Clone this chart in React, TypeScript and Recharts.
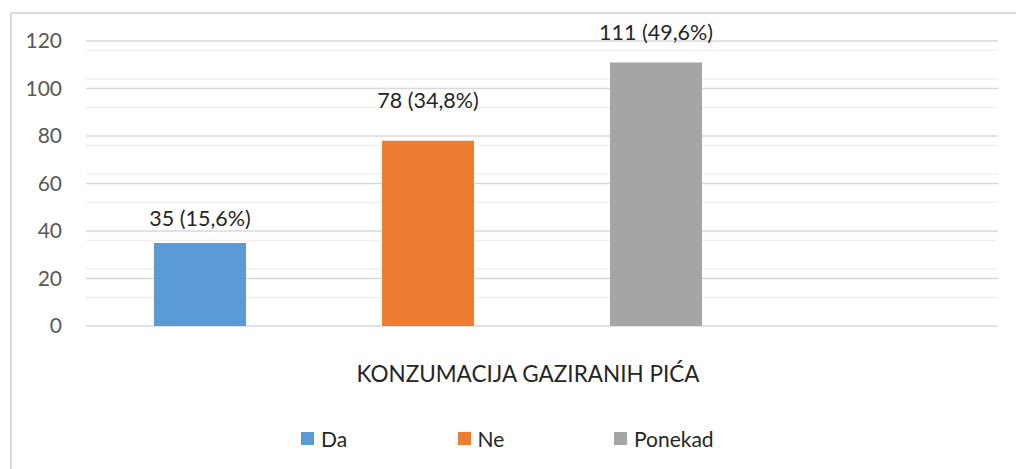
import React from 'react';
import { BarChart, Bar, XAxis, YAxis, CartesianGrid, LabelList } from 'recharts';

const category = 'KONZUMACIJA GAZIRANIH PIĆA';
const seriesNames = ['Da', 'Ne', 'Ponekad'];
const seriesValues = [35, 78, 111];
const seriesPercents = ['15,6%', '34,8%', '49,6%'];
const yTicks = [0, 20, 40, 60, 80, 100, 120];

const colors = ['#5B9BD5', '#ED7D31', '#A5A5A5'];
// labels sit at slightly different heights above each bar
const labelOffsets = [17, 33, 22];

const minorTicks = Array.from({ length: 31 }, (_, i) => i * 4).filter((v) => v % 20 !== 0);

const row: Record<string, string | number | null> = { category, empty: null };
seriesNames.forEach((name, i) => {
  row[name] = seriesValues[i];
});
const data = [row];

const FONT = 'Lato, "Open Sans", sans-serif';

function CategoryTick(props: any) {
  const { x, y, payload } = props;
  return (
    <text x={x - 14} y={y} dy={18} textAnchor="middle" fill="#262626" fontSize={22.5} fontFamily={FONT}>
      {payload.value}
    </text>
  );
}

function ChartLegend() {
  return (
    <div
      style={{
        position: 'absolute',
        left: 301,
        top: 426,
        display: 'flex',
        fontFamily: FONT,
        fontSize: 21,
        color: '#262626',
      }}
    >
      {seriesNames.map((name, i) => (
        <div key={name} style={{ display: 'flex', alignItems: 'center', width: 156.5 }}>
          <span style={{ width: 13, height: 13, background: colors[i], display: 'inline-block', marginRight: 7 }} />
          <span>{name}</span>
        </div>
      ))}
    </div>
  );
}

export default function App() {
  return (
    <div style={{ position: 'absolute', left: 0, top: 0, width: 1016, height: 469, overflow: 'hidden', background: '#fff' }}>
      <div
        style={{
          position: 'absolute',
          left: 10,
          top: 12,
          width: 1020,
          height: 470,
          border: '2px solid #d9d9d9',
          boxSizing: 'border-box',
        }}
      />
      <div style={{ position: 'absolute', left: 0, top: 0 }}>
        <BarChart
          width={1016}
          height={469}
          data={data}
          margin={{ top: 41, right: 18, left: 26, bottom: 63 }}
          barSize={92}
          barGap={136}
        >
          <CartesianGrid vertical={false} horizontalValues={minorTicks} stroke="#f0f0f0" strokeWidth={1.5} />
          <CartesianGrid vertical={false} horizontalValues={yTicks} stroke="#d9d9d9" strokeWidth={1.5} />
          <XAxis
            dataKey="category"
            axisLine={false}
            tickLine={false}
            tickSize={0}
            tickMargin={38}
            height={80}
            tick={<CategoryTick />}
          />
          <YAxis
            domain={[0, 120]}
            ticks={yTicks}
            axisLine={false}
            tickLine={false}
            tickSize={0}
            tickMargin={24}
            width={60}
            tick={{ fill: '#595959', fontSize: 21, fontFamily: FONT }}
          />
          {seriesNames.map((name, i) => (
            <Bar key={name} dataKey={name} fill={colors[i]} isAnimationActive={false}>
              <LabelList
                dataKey={name}
                position="top"
                offset={labelOffsets[i]}
                formatter={(v: any) => `${v} (${seriesPercents[i]})`}
                fill="#262626"
                fontSize={21.5}
                fontFamily={FONT}
              />
            </Bar>
          ))}
          {/* empty fourth slot keeps the three bars left of centre, as in the source */}
          <Bar dataKey="empty" fill="transparent" isAnimationActive={false} />
        </BarChart>
      </div>
      <ChartLegend />
    </div>
  );
}
